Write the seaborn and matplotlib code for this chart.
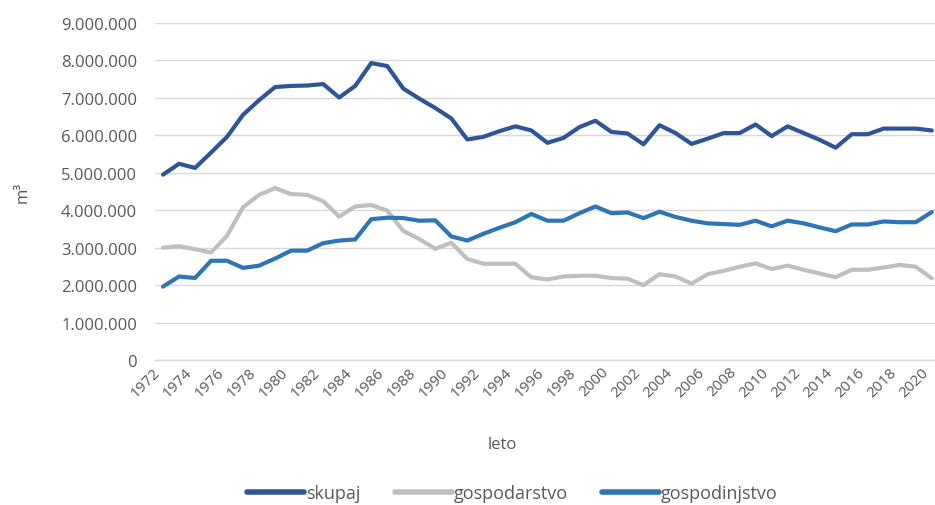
import pandas as pd
import numpy as np
import matplotlib
matplotlib.use('Agg')
import matplotlib.pyplot as plt
import seaborn as sns
from matplotlib.ticker import FuncFormatter


# data (m3 per year)
years = list(range(1972, 2021))

skupaj = [4.95, 5.24, 5.13, 5.54, 5.96, 6.55, 6.94, 7.29, 7.32, 7.33,
          7.37, 7.01, 7.32, 7.93, 7.85, 7.25, 6.98, 6.73, 6.45, 5.89,
          5.96, 6.11, 6.24, 6.13, 5.80, 5.93, 6.22, 6.39, 6.09, 6.05,
          5.76, 6.27, 6.06, 5.77, 5.91, 6.06, 6.06, 6.29, 5.98, 6.24,
          6.06, 5.88, 5.67, 6.03, 6.03, 6.18, 6.18, 6.18, 6.13]

gospodarstvo = [3.00, 3.04, 2.96, 2.87, 3.32, 4.08, 4.41, 4.59, 4.43, 4.41,
                4.24, 3.83, 4.10, 4.14, 3.99, 3.45, 3.23, 2.97, 3.13, 2.70,
                2.57, 2.57, 2.57, 2.21, 2.15, 2.23, 2.25, 2.25, 2.19, 2.17,
                2.00, 2.29, 2.23, 2.04, 2.29, 2.38, 2.49, 2.58, 2.43, 2.52,
                2.41, 2.31, 2.21, 2.41, 2.41, 2.47, 2.54, 2.49, 2.18]

gospodinjstvo = [1.96, 2.23, 2.19, 2.65, 2.65, 2.46, 2.52, 2.71, 2.92, 2.92,
                 3.12, 3.19, 3.22, 3.76, 3.80, 3.79, 3.72, 3.73, 3.30, 3.19,
                 3.37, 3.53, 3.68, 3.90, 3.72, 3.72, 3.92, 4.10, 3.92, 3.94,
                 3.79, 3.96, 3.82, 3.72, 3.65, 3.63, 3.61, 3.72, 3.57, 3.72,
                 3.65, 3.54, 3.44, 3.62, 3.62, 3.70, 3.68, 3.68, 3.95]

series_names = ['skupaj', 'gospodarstvo', 'gospodinjstvo']
colors = ['#2F5597', '#BFBFBF', '#2E75B6']

df = pd.DataFrame({'leto': years, 'skupaj': skupaj,
                   'gospodarstvo': gospodarstvo, 'gospodinjstvo': gospodinjstvo})
df = df.melt(id_vars='leto', var_name='serija', value_name='m3')
df['m3'] = df['m3'] * 1e6


sns.set_theme(style='white')
plt.rcParams['font.family'] = ['Open Sans', 'DejaVu Sans']
txt = '#595959'

fig = plt.figure(figsize=(9.35, 5.06), dpi=100)
ax = fig.add_axes([155/935, 1-361/506, 780/935, 337/506])

sns.lineplot(data=df, x='leto', y='m3', hue='serija', hue_order=series_names,
             palette=colors, linewidth=3, ax=ax)

ax.set_xlim(1971.5, 2020.2)
ax.set_ylim(0, 9e6)
ax.set_yticks(np.arange(0, 9e6 + 1, 1e6))
ax.yaxis.set_major_formatter(FuncFormatter(lambda v, p: f'{int(v):,}'.replace(',', '.')))
ax.set_xticks(range(1972, 2021, 2))
# rotated labels end at the tick, like excel does it
ax.set_xticklabels([str(y) for y in range(1972, 2021, 2)], rotation=45,
                   ha='right', va='top')

ax.grid(axis='y', color='#D9D9D9', linewidth=1)
ax.set_axisbelow(True)
for s in ['top', 'right', 'left']:
    ax.spines[s].set_visible(False)
ax.spines['bottom'].set_color('#D9D9D9')
ax.spines['bottom'].set_linewidth(1)
ax.tick_params(axis='y', length=0, colors=txt, labelsize=12, pad=13)
ax.tick_params(axis='x', length=0, colors=txt, labelsize=11, pad=3)

ax.set_xlabel('leto', color=txt, fontsize=12)
ax.xaxis.set_label_coords((502 - 155) / 780, -0.225)
ax.set_ylabel('m³', color=txt, fontsize=12, labelpad=22)

sns.move_legend(ax, 'lower center', bbox_to_anchor=(0.458, -0.47),
                ncol=3, frameon=False, title=None, fontsize=13,
                handlelength=3.15, handletextpad=0.1, columnspacing=1.9)
for t in ax.get_legend().get_texts():
    t.set_color(txt)
for h in ax.get_legend().legend_handles:
    h.set_linewidth(4)

fig.savefig('out.png', dpi=100)
